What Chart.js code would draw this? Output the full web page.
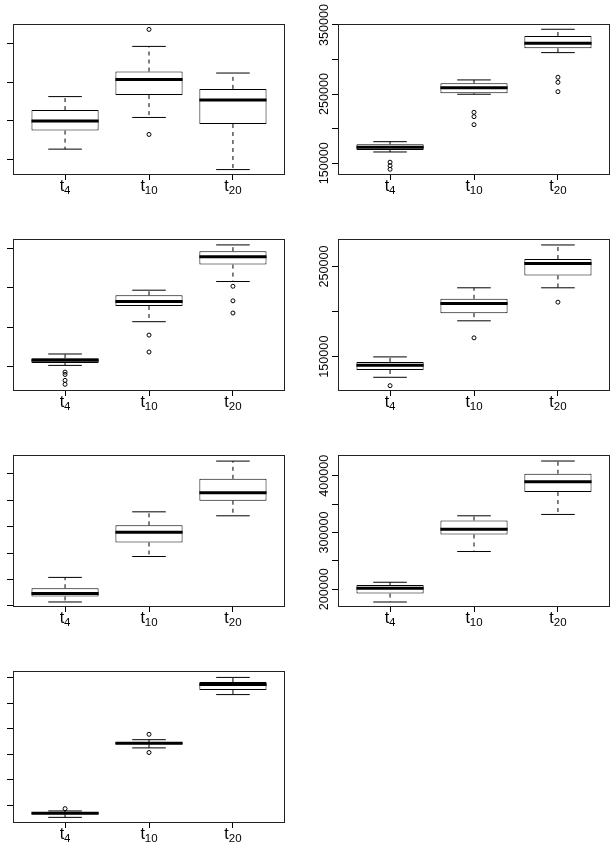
<!DOCTYPE html>
<html>
<head>
<meta charset="utf-8">
<script src="https://cdn.jsdelivr.net/npm/chart.js@4.4.1/dist/chart.umd.min.js"></script>
<style>
  html, body { margin: 0; padding: 0; background: #fff; }
  body { width: 616px; height: 860px; position: relative; overflow: hidden; }
  .panel { position: absolute; width: 308px; height: 215px; }
  .panel canvas { display: block; }
</style>
</head>
<body>
<div class="panel" style="left:0;top:0"><canvas id="c1" width="308" height="215"></canvas></div>
<div class="panel" style="left:308px;top:0"><canvas id="c2" width="308" height="215"></canvas></div>
<div class="panel" style="left:0;top:215px"><canvas id="c3" width="308" height="215"></canvas></div>
<div class="panel" style="left:308px;top:215px"><canvas id="c4" width="308" height="215"></canvas></div>
<div class="panel" style="left:0;top:430px"><canvas id="c5" width="308" height="215"></canvas></div>
<div class="panel" style="left:308px;top:430px"><canvas id="c6" width="308" height="215"></canvas></div>
<div class="panel" style="left:0;top:645px"><canvas id="c7" width="308" height="215"></canvas></div>
<script>
// 범주 (첫 글자 = 본문, 나머지 = 아래첨자)
const categories = ['t4', 't10', 't20'];

// 상자 하나: [아래 수염, Q1, 중앙값, Q3, 위 수염]
// 패널 1 (왼쪽 위, 눈금 라벨 없음)
const boxes1 = [[1.27, 1.75, 2.00, 2.28, 2.63], [2.09, 2.67, 3.07, 3.28, 3.93], [0.74, 1.92, 2.54, 2.83, 3.24]];
const outliers1 = [[], [4.37, 1.65], []];
const yTicks1 = [1, 2, 3, 4];
const yRange1 = [0.60, 4.51];

// 패널 2
const boxes2 = [[166300, 169200, 173100, 177500, 181200], [249800, 251200, 259300, 265700, 270500], [310000, 316300, 323500, 334100, 343800]];
const outliers2 = [[151500, 146500, 141300], [223700, 217400, 205800], [274400, 267100, 253500]];
const yTicks2 = [150000, 200000, 250000, 300000, 350000];
const yRange2 = [133000, 351400];

// 패널 3
const boxes3 = [[1.03, 1.09, 1.16, 1.21, 1.32], [2.14, 2.54, 2.65, 2.81, 2.94], [3.16, 3.59, 3.79, 3.93, 4.09]];
const outliers3 = [[0.86, 0.80, 0.65, 0.55], [1.80, 1.37], [3.04, 2.67, 2.36]];
const yTicks3 = [1, 2, 3, 4];
const yRange3 = [0.38, 4.24];

// 패널 4
const boxes4 = [[127100, 135200, 140400, 144100, 149700], [189700, 198200, 208900, 214100, 226300], [226300, 240000, 253300, 258200, 273800]];
const outliers4 = [[117800], [170800], [210400]];
const yTicks4 = [150000, 200000, 250000];
const yRange4 = [111900, 280400];

// 패널 5
const boxes5 = [[0.15, 0.36, 0.47, 0.67, 1.08], [1.87, 2.40, 2.79, 3.05, 3.56], [3.41, 3.98, 4.28, 4.81, 5.48]];
const outliers5 = [[], [], []];
const yTicks5 = [0, 1, 2, 3, 4, 5];
const yRange5 = [-0.04, 5.71];

// 패널 6
const boxes6 = [[177600, 192400, 201800, 207600, 212400], [266500, 296500, 305900, 321200, 329400], [331800, 371200, 389400, 403500, 425900]];
const outliers6 = [[], [], []];
const yTicks6 = [200000, 250000, 300000, 350000, 400000];
const yRange6 = [168800, 436500];

// 패널 7
const boxes7 = [[0.54, 0.66, 0.70, 0.74, 0.79], [3.25, 3.39, 3.43, 3.47, 3.57], [5.33, 5.51, 5.72, 5.82, 6.00]];
const outliers7 = [[0.88], [3.78, 3.07], []];
const yTicks7 = [1, 2, 3, 4, 5, 6];
const yRange7 = [0.32, 6.25];

// 행별 플롯 영역 (캔버스 기준)
const rowTop = [24, 24, 25, 26];
const rowBottom = [175, 176, 177, 178];
const FONT = '"Liberation Sans", Arial, sans-serif';

// 플롯 테두리
const framePlugin = {
    id: 'frame',
    afterDraw(chart) {
        const { ctx, chartArea: a } = chart;
        ctx.save();
        ctx.strokeStyle = '#222';
        ctx.lineWidth = 1;
        ctx.strokeRect(a.left + 0.5, a.top + 0.5, a.right - a.left - 1, a.bottom - a.top - 1);
        ctx.restore();
    }
};

// x축 라벨 (아래첨자)
const subLabelPlugin = {
    id: 'subLabels',
    afterDraw(chart) {
        const { ctx } = chart;
        const xs = chart.scales.x;
        const axisY = chart.chartArea.bottom;
        ctx.save();
        ctx.fillStyle = '#000';
        ctx.textAlign = 'left';
        ctx.textBaseline = 'alphabetic';
        categories.forEach((c, i) => {
            const base = c.slice(0, 1), sub = c.slice(1);
            ctx.font = '16px ' + FONT;
            const wb = ctx.measureText(base).width;
            ctx.font = '11.5px ' + FONT;
            const ws = ctx.measureText(sub).width;
            const x0 = xs.getPixelForValue(i + 1) - (wb + ws) / 2;
            ctx.font = '16px ' + FONT;
            ctx.fillText(base, x0, axisY + 15.7);
            ctx.font = '11.5px ' + FONT;
            ctx.fillText(sub, x0 + wb, axisY + 19.3);
        });
        ctx.restore();
    }
};

function createBoxChart(id, col, row, boxes, outliers, yTicks, yRange, showLabels) {
    const ctx = document.getElementById(id).getContext('2d');
    const left = col === 0 ? 13 : 30;
    const right = col === 0 ? 285 : 302;
    const top = rowTop[row], bottom = rowBottom[row];

    const medians = [], whiskers = [], caps = [], points = [];
    boxes.forEach((b, i) => {
        const x = i + 1;
        medians.push({ x: x - 0.4, y: b[2] }, { x: x + 0.4, y: b[2] }, { x: x + 0.4, y: null });
        whiskers.push({ x, y: b[3] }, { x, y: b[4] }, { x, y: null },
                      { x, y: b[1] }, { x, y: b[0] }, { x, y: null });
        caps.push({ x: x - 0.2, y: b[4] }, { x: x + 0.2, y: b[4] }, { x: x + 0.2, y: null },
                  { x: x - 0.2, y: b[0] }, { x: x + 0.2, y: b[0] }, { x: x + 0.2, y: null });
        outliers[i].forEach(v => points.push({ x, y: v }));
    });

    return new Chart(ctx, {
        type: 'scatter',
        data: {
            datasets: [
                { type: 'line', data: medians, borderColor: '#000', borderWidth: 3, pointRadius: 0, spanGaps: false, order: 0 },
                {
                    type: 'bar',
                    data: boxes.map((b, i) => ({ x: i + 1, y: [b[1], b[3]] })),
                    backgroundColor: '#fff', borderColor: '#000', borderWidth: 1,
                    borderSkipped: false, barPercentage: 0.8, categoryPercentage: 1, order: 1
                },
                { type: 'line', data: whiskers, borderColor: '#000', borderWidth: 1, borderDash: [4, 4], pointRadius: 0, spanGaps: false, order: 2 },
                { type: 'line', data: caps, borderColor: '#000', borderWidth: 1, pointRadius: 0, spanGaps: false, order: 2 },
                {
                    type: 'scatter', data: points, pointStyle: 'circle', pointRadius: 2,
                    borderWidth: 1, borderColor: '#000', backgroundColor: 'rgba(0,0,0,0)', order: 0
                }
            ]
        },
        options: {
            responsive: false,
            animation: false,
            events: [],
            layout: { padding: { top: top, left: 0, right: 308 - right, bottom: 0 } },
            plugins: { legend: { display: false }, tooltip: { enabled: false } },
            scales: {
                x: {
                    type: 'linear', min: 0.38, max: 3.62, offset: false,
                    afterBuildTicks: s => { s.ticks = categories.map((c, i) => ({ value: i + 1 })); },
                    afterFit: s => { s.height = 215 - bottom; },
                    ticks: { display: false },
                    grid: { drawOnChartArea: false, drawTicks: true, tickLength: 5, color: '#000', offset: false },
                    border: { display: false }
                },
                y: {
                    type: 'linear', min: yRange[0], max: yRange[1],
                    afterBuildTicks: s => { s.ticks = yTicks.map(v => ({ value: v })); },
                    afterFit: s => { s.width = left; },
                    ticks: {
                        display: showLabels, autoSkip: false,
                        minRotation: 90, maxRotation: 90, crossAlign: 'center', padding: -13.7,
                        color: '#000', font: { family: FONT, size: 12.6 },
                        callback: (v, i) => (i % 2 === 0 ? String(v) : '')
                    },
                    grid: { drawOnChartArea: false, drawTicks: true, tickLength: 6, color: '#000' },
                    border: { display: false }
                }
            }
        },
        plugins: [framePlugin, subLabelPlugin]
    });
}

createBoxChart('c1', 0, 0, boxes1, outliers1, yTicks1, yRange1, false);
createBoxChart('c2', 1, 0, boxes2, outliers2, yTicks2, yRange2, true);
createBoxChart('c3', 0, 1, boxes3, outliers3, yTicks3, yRange3, false);
createBoxChart('c4', 1, 1, boxes4, outliers4, yTicks4, yRange4, true);
createBoxChart('c5', 0, 2, boxes5, outliers5, yTicks5, yRange5, false);
createBoxChart('c6', 1, 2, boxes6, outliers6, yTicks6, yRange6, true);
createBoxChart('c7', 0, 3, boxes7, outliers7, yTicks7, yRange7, false);
</script>
</body>
</html>
